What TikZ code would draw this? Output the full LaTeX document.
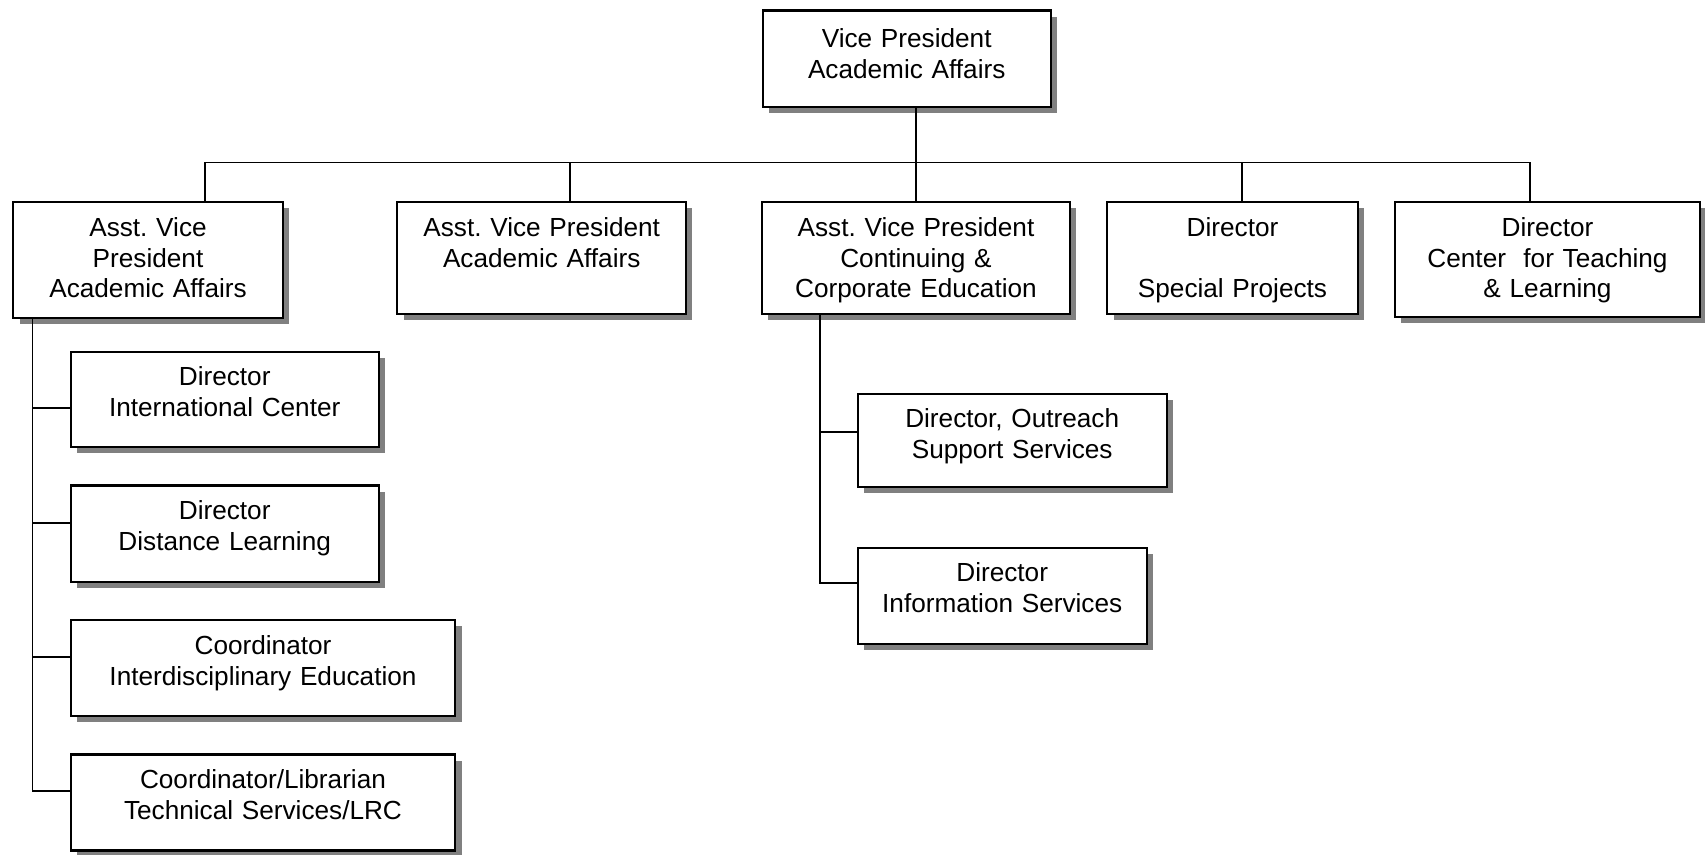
\documentclass[tikz,border=0pt]{standalone}
\usepackage{fontspec}
\setmainfont{Liberation Sans}
\usetikzlibrary{shadows}
\newlength\pxu
\setlength\pxu{0.02cm}
\frenchspacing

\begin{document}
\begin{tikzpicture}[x=0.02cm, y=-0.02cm,
    unit/.style={draw, line width=1.3pt, fill=white, align=center,
      inner sep=0pt, anchor=north, text height=34\pxu,
      font=\fontsize{14.9}{17.6}\selectfont,
      drop shadow={shadow xshift=3.6pt, shadow yshift=-3.6pt, fill=black!50, opacity=1}},
    link/.style={line width=1pt}]
    \useasboundingbox (0,0) rectangle (1705,855);

    % Top box
    \node[unit, text width=288\pxu, text height=37\pxu, text depth=59.7\pxu] (vp) at (906.7,9.3)
      {Vice President\\Academic Affairs};

    % Second row
    \node[unit, text width=269.4\pxu, text depth=81.7\pxu] (l1) at (148,201)
      {Asst. Vice\\President\\Academic Affairs};
    \node[unit, text width=288.7\pxu, text depth=77.7\pxu] (l2) at (541.7,201)
      {Asst. Vice President\\Academic Affairs};
    \node[unit, text width=308\pxu, text depth=77.7\pxu] (l3) at (916,201)
      {Asst. Vice President\\Continuing \&\\Corporate Education};
    \node[unit, text width=250.4\pxu, text depth=77.7\pxu] (l4) at (1232.5,201)
      {Director\\~\\Special Projects};
    \node[unit, text width=305\pxu, text depth=81\pxu] (l5) at (1547.5,201)
      {Director\\Center\ \ for Teaching\\\& Learning};

    % Under the first assistant
    \node[unit, text width=308\pxu, text depth=61.3\pxu] (ic) at (224.7,350.7)
      {Director\\International Center};
    \node[unit, text width=308\pxu, text depth=62.4\pxu] (dl) at (224.7,484.3)
      {Director\\Distance Learning};
    \node[unit, text width=384.6\pxu, text depth=62\pxu] (cid) at (263,619)
      {Coordinator\\Interdisciplinary Education};
    \node[unit, text width=384.6\pxu, text depth=62\pxu] (cl) at (263,753.3)
      {Coordinator/Librarian\\Technical Services/LRC};

    % Under continuing education
    \node[unit, text width=309\pxu, text depth=59.3\pxu] (os) at (1012.2,392.7)
      {Director, Outreach\\Support Services};
    \node[unit, text width=289\pxu, text depth=62\pxu] (is) at (1002.2,546.7)
      {Director\\Information Services};

    % Bus points
    \coordinate (d1) at (205,162.5);
    \coordinate (d2) at (570.3,162.5);
    \coordinate (d4) at (1242.3,162.5);
    \coordinate (d5) at (1530,162.5);
    \coordinate (a1) at (32.5,408.3);
    \coordinate (a2) at (32.5,522.7);
    \coordinate (a3) at (32.5,657.3);
    \coordinate (a4) at (32.5,791.3);
    \coordinate (b1) at (820,431.7);
    \coordinate (b2) at (820,583.3);

    % Lines
    \draw[link] (vp.south -| l3.north) -- (l3.north);
    \draw[link] (d1 |- l1.north) |- (d5) -- (d5 |- l5.north);
    \draw[link] (d2) -- (d2 |- l2.north);
    \draw[link] (d4) -- (d4 |- l4.north);

    \draw[link] (l1.south -| a1) -- (a4) -- (a4 -| cl.west);
    \draw[link] (a1) -- (a1 -| ic.west);
    \draw[link] (a2) -- (a2 -| dl.west);
    \draw[link] (a3) -- (a3 -| cid.west);

    \draw[link] (l3.south -| b1) -- (b2) -- (b2 -| is.west);
    \draw[link] (b1) -- (b1 -| os.west);
  \end{tikzpicture}
\end{document}
